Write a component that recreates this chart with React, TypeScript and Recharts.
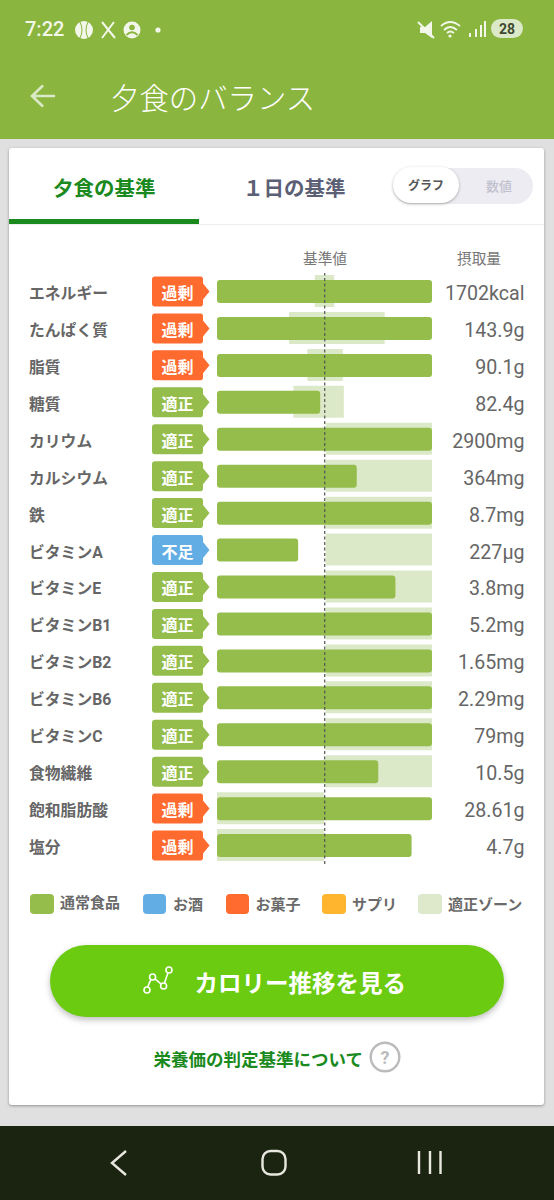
import React from "react";
import { BarChart, Bar, XAxis, YAxis, ReferenceLine } from "recharts";

const nutrients = ["エネルギー","たんぱく質","脂質","糖質","カリウム","カルシウム","鉄","ビタミンA","ビタミンE","ビタミンB1","ビタミンB2","ビタミンB6","ビタミンC","食物繊維","飽和脂肪酸","塩分"];
const amounts = ["1702kcal","143.9g","90.1g","82.4g","2900mg","364mg","8.7mg","227µg","3.8mg","5.2mg","1.65mg","2.29mg","79mg","10.5g","28.61g","4.7g"];
const statuses = ["過剰","過剰","過剰","適正","適正","適正","適正","不足","適正","適正","適正","適正","適正","適正","過剰","過剰"];
const intake = [200,200,200,96,200,130,200,75.5,166,200,200,200,200,150,200,181];
const zoneLow = [91,67,84,71,101,101,101,101,101,101,101,101,101,101,0,0];
const zoneHigh = [109,156,117,118,200,200,200,200,200,200,200,200,200,200,99.5,99.5];

const legendItems = [
  { label: "通常食品", color: "#94BD4B", sx: 30, tx: 60, ty: 903 },
  { label: "お酒", color: "#62AEE4", sx: 142.5, tx: 173, ty: 905 },
  { label: "お菓子", color: "#FF6A2E", sx: 225.5, tx: 255.5, ty: 905 },
  { label: "サプリ", color: "#FFB52E", sx: 322, tx: 352, ty: 905 },
  { label: "適正ゾーン", color: "#DDE9CA", sx: 418, tx: 448, ty: 905 },
];

const statusColors: Record<string, string> = { 過剰: "#FF6A2E", 適正: "#94BD4B", 不足: "#62AEE4" };

const rows = nutrients.map((name, i) => ({
  name,
  amount: amounts[i],
  status: statuses[i],
  intake: intake[i],
  zone: [zoneLow[i], zoneHigh[i]],
}));

const FONT = 'Roboto, "Noto Sans CJK JP", sans-serif';
const CJK = '"Noto Sans CJK JP", Roboto, sans-serif';

function NameTick({ y, payload, index }: any) {
  const status = statuses[index];
  const c = statusColors[status];
  const h = 15;
  const path = `M155 ${y - h} H200.5 Q203 ${y - h} 203 ${y - h + 3} V${y - 8} L209.5 ${y} L203 ${y + 8} V${y + h - 3} Q203 ${y + h} 200.5 ${y + h} H155 Q152 ${y + h} 152 ${y + h - 3} V${y - h + 3} Q152 ${y - h} 155 ${y - h} Z`;
  return (
    <g>
      <text x={29} y={y + 2} dominantBaseline="central" fontFamily={FONT} fontSize={15.8} fontWeight={700} fill="#666">
        {payload.value}
      </text>
      <path d={path} fill={c} />
      <text x={177.5} y={y + 0.5} dominantBaseline="central" textAnchor="middle" fontFamily={CJK} fontSize={16} fontWeight={700} fill="#fff">
        {status}
      </text>
    </g>
  );
}

function AmountTick({ y, payload }: any) {
  return (
    <text x={524.5} y={y + 2} dominantBaseline="central" textAnchor="end" fontFamily={FONT} fontSize={19.6} fill="#666">
      {payload.value}
    </text>
  );
}

const abs = (left: number, top: number, extra: React.CSSProperties = {}): React.CSSProperties => ({
  position: "absolute", left, top, ...extra,
});

function Label({ x, cy, size, color, weight = 400, text, center, font = CJK }: any) {
  return (
    <div style={{
      position: "absolute", left: center ? x - 200 : x, width: center ? 400 : undefined, top: cy - 20, height: 40, lineHeight: "40px",
      textAlign: center ? "center" : "left", fontSize: size, color, fontWeight: weight, fontFamily: font, whiteSpace: "nowrap",
    }}>{text}</div>
  );
}

export default function App() {
  return (
    <div style={{ position: "absolute", left: 0, top: 0, width: 554, height: 1200, background: "#E0E0E0", overflow: "hidden" }}>
      {/* header */}
      <div style={abs(0, 0, { width: 554, height: 139, background: "#8AB53F" })} />
      <Label x={25} cy={29} size={20} color="#F3F7EA" weight={500} font={FONT} text="7:22" />
      <svg width={554} height={139} style={abs(0, 0)}>
        <circle cx={84} cy={30} r={9} fill="#F3F7EA" />
        <path d="M80 22 Q84 30 80 38 M88 22 Q84 30 88 38" stroke="#8AB53F" strokeWidth={1} fill="none" />
        <path d="M102 22 L115 38 M114 22 L102 38" stroke="#F3F7EA" strokeWidth={2} />
        <circle cx={132} cy={30} r={8.5} fill="#F3F7EA" />
        <circle cx={132} cy={27.5} r={2.8} fill="#8AB53F" />
        <path d="M126.5 35 Q132 29.5 137.5 35" stroke="#8AB53F" strokeWidth={2} fill="none" />
        <circle cx={158} cy={30} r={2.6} fill="#F3F7EA" />
        <path d="M420 27 H425 L432 21 V38 L425 33 H420 Z" fill="#F3F7EA" />
        <path d="M418 22 L434 38" stroke="#F3F7EA" strokeWidth={2} />
        <path d="M441 26 Q450 18 460 26 M444 30 Q450 24 457 30 M447 33 Q450 30 454 33" stroke="#F3F7EA" strokeWidth={1.8} fill="none" />
        <circle cx={450} cy={36} r={1.6} fill="#F3F7EA" />
        <path d="M470 37 V33 M476 37 V29 M481 37 V25 M485 37 V21" stroke="#F3F7EA" strokeWidth={2} />
        <rect x={491} y={19} width={32} height={19} rx={9.5} fill="#DCE9C9" />
        <text x={507} y={29} dominantBaseline="central" textAnchor="middle" fontFamily={FONT} fontSize={14} fontWeight={700} fill="#3F4A30">28</text>
        <path d="M55 96 H33 M43 85.5 L32 96 L43 106.5" stroke="#DCE9C9" strokeWidth={2.6} fill="none" />
      </svg>
      <Label x={110} cy={96} size={29.4} color="#fff" weight={300} text="夕食のバランス" />

      {/* card */}
      <div style={abs(9, 148, { width: 535, height: 957, background: "#fff", borderRadius: 3, boxShadow: "0 1px 3px rgba(0,0,0,0.35)" })} />
      <div style={abs(9, 224, { width: 535, height: 1, background: "#EEEEEE" })} />
      <div style={abs(9, 219, { width: 190, height: 5, background: "#1A8A1E" })} />
      <Label x={53} cy={187} size={20.5} color="#1A8A1E" weight={700} text="夕食の基準" />
      <Label x={243} cy={187} size={20.5} color="#5B6075" weight={700} text="１日の基準" />
      <div style={abs(393, 168, { width: 140, height: 36, borderRadius: 18, background: "#ECECF2" })} />
      <div style={abs(393, 167, { width: 66, height: 36, borderRadius: 18, background: "#fff", boxShadow: "0 1px 3px rgba(0,0,0,0.3)" })} />
      <Label x={426} cy={185} size={12} color="#555" weight={700} center text="グラフ" />
      <Label x={499} cy={186} size={13} color="#C2C2CE" weight={500} center text="数値" />
      <Label x={325} cy={258} size={14.7} color="#777" center text="基準値" />
      <Label x={479} cy={258} size={14.7} color="#777" center text="摂取量" />

      {/* chart */}
      <div style={abs(0, 240)}>
        <BarChart
          width={554}
          height={640}
          data={rows}
          layout="vertical"
          margin={{ top: 33, right: 0, bottom: 16, left: 0 }}
        >
          <XAxis type="number" domain={[0, 200]} hide allowDataOverflow />
          <YAxis yAxisId="names" type="category" dataKey="name" width={217} axisLine={false} tickLine={false} interval={0} tick={<NameTick />} />
          <YAxis yAxisId="amounts" type="category" dataKey="amount" orientation="right" width={122} axisLine={false} tickLine={false} interval={0} tick={<AmountTick />} />
          <Bar yAxisId="amounts" dataKey="zone" fill="#DCE9C9" barSize={32} isAnimationActive={false} />
          <Bar yAxisId="names" dataKey="intake" fill="#94BD4B" barSize={23} radius={3} isAnimationActive={false} />
          <ReferenceLine yAxisId="names" x={100.2} stroke="#555" strokeDasharray="3 2.5" strokeWidth={1.2} />
        </BarChart>
      </div>

      {/* legend */}
      {legendItems.map((it) => (
        <React.Fragment key={it.label}>
          <div style={abs(it.sx, 894, { width: 23.5, height: 19.5, borderRadius: 4, background: it.color })} />
          <Label x={it.tx} cy={it.ty - 1} size={15} color="#6A6A6A" weight={700} text={it.label} />
        </React.Fragment>
      ))}

      {/* button */}
      <div style={abs(50, 945, { width: 454, height: 72, borderRadius: 36, background: "#6BCB10", boxShadow: "0 3px 6px rgba(0,0,0,0.25)" })} />
      <svg width={40} height={40} style={abs(138, 960)}>
        <path d="M9 30 Q11 22 14.6 17 L25.6 26 Q28 18 31 10" stroke="#fff" strokeWidth={1.6} fill="none" />
        <circle cx={9} cy={30} r={3} fill="#6BCB10" stroke="#fff" strokeWidth={1.6} />
        <circle cx={14.6} cy={17} r={3} fill="#6BCB10" stroke="#fff" strokeWidth={1.6} />
        <circle cx={25.6} cy={26} r={3} fill="#6BCB10" stroke="#fff" strokeWidth={1.6} />
        <circle cx={31} cy={10} r={3} fill="#6BCB10" stroke="#fff" strokeWidth={1.6} />
      </svg>
      <Label x={194.5} cy={982} size={23.5} color="#fff" weight={700} text="カロリー推移を見る" />
      <Label x={153.5} cy={1059} size={17.5} color="#1A8A1E" weight={700} text="栄養価の判定基準について" />
      <svg width={34} height={34} style={abs(368, 1040)}>
        <circle cx={17} cy={17} r={14.3} fill="none" stroke="#BBB" strokeWidth={2.4} />
        <text x={17} y={17} dominantBaseline="central" textAnchor="middle" fontFamily={FONT} fontSize={18} fontWeight={700} fill="#BBB">?</text>
      </svg>

      {/* nav */}
      <div style={abs(0, 1126, { width: 554, height: 74, background: "#1B2410" })} />
      <svg width={554} height={74} style={abs(0, 1126)}>
        <path d="M126 25 L112 37 L126 49" stroke="#E8E8E0" strokeWidth={2.4} fill="none" />
        <rect x={262.5} y={25} width={23} height={23.5} rx={8} stroke="#E8E8E0" strokeWidth={2.4} fill="none" />
        <path d="M419 25 V48 M430 25 V48 M440.5 25 V48" stroke="#E8E8E0" strokeWidth={2.4} />
      </svg>
    </div>
  );
}
